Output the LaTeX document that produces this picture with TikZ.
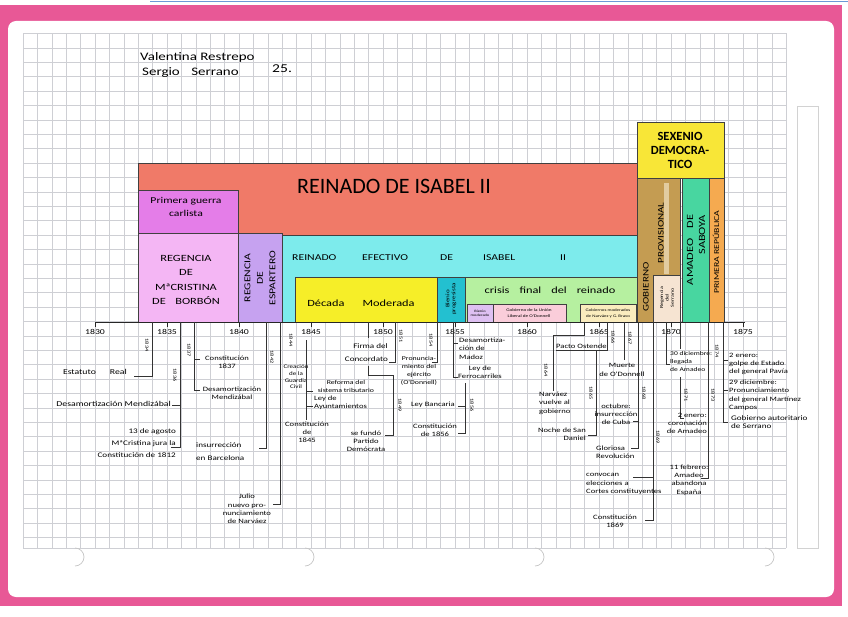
\documentclass[tikz,border=0pt]{standalone}
\usepackage{fontspec}
\setmainfont{Carlito}
\newfontfamily\hand[FakeStretch=1.3]{Carlito}
\definecolor{pinkframe}{RGB}{232,88,150}
\definecolor{gridc}{RGB}{206,207,212}
\definecolor{salmon}{RGB}{240,122,104}
\definecolor{carlista}{RGB}{228,125,232}
\definecolor{regmc}{RGB}{244,182,244}
\definecolor{espart}{RGB}{198,162,240}
\definecolor{efect}{RGB}{125,235,236}
\definecolor{decmod}{RGB}{246,238,40}
\definecolor{bienio}{RGB}{35,192,208}
\definecolor{crisis}{RGB}{182,240,160}
\definecolor{biemod}{RGB}{222,192,242}
\definecolor{union}{RGB}{250,205,218}
\definecolor{gobmod}{RGB}{250,236,190}
\definecolor{sexenio}{RGB}{248,230,55}
\definecolor{gobprov}{RGB}{196,156,82}
\definecolor{gobprovl}{RGB}{226,204,160}
\definecolor{regser}{RGB}{246,228,210}
\definecolor{amadeo}{RGB}{72,214,160}
\definecolor{repub}{RGB}{245,170,80}
\tikzset{
  gridl/.style={draw=gridc, line width=0.45pt},
  box/.style={draw=black!75, line width=0.6pt},
  ev/.style={draw=black!80, line width=0.55pt},
  lbl/.style={font=\hand\fontsize{6.6}{8.2}\selectfont, inner sep=0pt, align=center},
  yr/.style={font=\hand\fontsize{4.8}{5}\selectfont, rotate=-90, inner sep=0pt},
  axyr/.style={font=\hand\fontsize{7.5}{8}\selectfont, inner sep=0pt},
  ttl/.style={inner sep=0pt, align=center},
}
\begin{document}
\begin{tikzpicture}[x=1pt,y=-1pt]
\useasboundingbox (0,0) rectangle (848,617);
% frame
\fill[white] (0,0) rectangle (848,617);
\fill[pinkframe] (0,5) rectangle (842,606);
\draw[cyan!50!blue!60, line width=1.2pt] (150,1.5) -- (848,1.5);
\fill[white, rounded corners=8pt] (8,21) rectangle (834,597);
% grid
\foreach \i in {0,...,53} \draw[gridl] ({23+\i*14.4},33.5) -- ({23+\i*14.4},548);
\foreach \j in {0,...,35} \draw[gridl] (23,{33.5+\j*14.4}) -- (786.2,{33.5+\j*14.4});
\draw[gridl] (23,548) -- (786.2,548);
\draw[draw=gray!35, line width=0.8pt] (797,106) rectangle (818,548);
% holes
\foreach \hx in {75,305,535,765} \draw[gray!45, line width=0.7pt] (\hx,566) arc[start angle=90, end angle=-90, radius=9];
% names
\node[anchor=west, font=\hand\fontsize{11.5}{12}\selectfont, inner sep=0pt] (n1) at (140,57) {Valentina Restrepo};
\node[anchor=west, font=\hand\fontsize{11.5}{12}\selectfont, inner sep=0pt] (n2) at (142,73) {Sergio\quad Serrano};
\node[anchor=west, font=\hand\fontsize{12}{12}\selectfont, inner sep=0pt] (n3) at (272,69) {25.};
% boxes
\filldraw[box, fill=salmon] (138,163) rectangle (637,235);
\filldraw[box, fill=carlista] (138,190) rectangle (238,233);
\filldraw[box, fill=regmc] (138,233) rectangle (238,322);
\filldraw[box, fill=espart] (238,233) rectangle (282,322);
\filldraw[box, fill=efect] (282,235) rectangle (637,322);
\filldraw[box, fill=decmod] (295,277) rectangle (437,322);
\filldraw[box, fill=bienio] (437,277) rectangle (465,322);
\filldraw[box, fill=crisis] (465,277) rectangle (637,322);
\filldraw[box, fill=biemod] (467,304) rectangle (493,322);
\filldraw[box, fill=union] (493,304) rectangle (566,322);
\filldraw[box, fill=gobmod] (580,304) rectangle (636,322);
\filldraw[box, fill=sexenio] (637,122) rectangle (724,178);
\filldraw[box, fill=gobprov] (637,178) rectangle (680,322);
\fill[gobprovl] (664,183) rectangle (669,274);
\filldraw[box, fill=regser] (653,275) rectangle (680,322);
\filldraw[box, fill=amadeo] (682,178) rectangle (709,322);
\filldraw[box, fill=repub] (709,178) rectangle (724,322);
% box titles
\node[ttl, font=\fontsize{22}{22}\selectfont] (tisabel) at (394,186) {REINADO DE ISABEL II};
\node[ttl, font=\hand\fontsize{9}{13.5}\selectfont] (tcarl) at (186,207) {Primera guerra\\carlista};
\node[ttl, font=\hand\fontsize{9.5}{14.5}\selectfont] (tregmc) at (186,280) {REGENCIA\\DE\\MªCRISTINA\\DE\quad BORBÓN};
\node[ttl, font=\hand\fontsize{9}{12.5}\selectfont, rotate=90] (tesp) at (260,278) {REGENCIA\\DE\\ESPARTERO};
\node[ttl, anchor=west, font=\hand\fontsize{9}{10}\selectfont] (te1) at (292,258) {REINADO};
\node[ttl, anchor=west, font=\hand\fontsize{9}{10}\selectfont] (te2) at (362,258) {EFECTIVO};
\node[ttl, anchor=west, font=\hand\fontsize{9}{10}\selectfont] (te3) at (440,258) {DE};
\node[ttl, anchor=west, font=\hand\fontsize{9}{10}\selectfont] (te4) at (483,258) {ISABEL};
\node[ttl, anchor=west, font=\hand\fontsize{9}{10}\selectfont] (te5) at (560,258) {II};
\node[ttl, font=\hand\fontsize{9.5}{10}\selectfont] (tdec) at (361,303) {Década\hspace{18pt}Moderada};
\node[ttl, font=\hand\fontsize{5.4}{6}\selectfont, rotate=90] (tbien) at (451,299) {Bienio\\progresista};
\node[ttl, font=\hand\fontsize{9.5}{10}\selectfont] (tcris) at (550,290) {crisis\hspace{10pt}final\hspace{10pt}del\hspace{10pt}reinado};
\node[ttl, font=\hand\fontsize{3.4}{4}\selectfont] (tbm) at (480,313) {Bienio\\moderado};
\node[ttl, font=\hand\fontsize{4}{6}\selectfont] (tul) at (529,313) {Gobierno de la Unión\\Liberal de O'Donnell};
\node[ttl, font=\hand\fontsize{3.8}{6}\selectfont] (tgm) at (608,313) {Gobiernos moderados\\de Narváez y G. Bravo};
\node[ttl, font=\bfseries\fontsize{12.5}{14}\selectfont] (tsex) at (680,150) {SEXENIO\\DEMOCRA-\\TICO};
\node[ttl, font=\hand\fontsize{8.5}{9}\selectfont, rotate=90] (tgob) at (646,287) {GOBIERNO};
\node[ttl, font=\hand\fontsize{8.5}{9}\selectfont, rotate=90] (tprov) at (661,233) {PROVISIONAL};
\node[ttl, font=\hand\fontsize{4.6}{5.4}\selectfont, rotate=90] (tser) at (667,298) {Regencia\\del\\Serrano};
\node[ttl, font=\hand\fontsize{9.5}{12}\selectfont, rotate=90, align=right] (tama) at (696,250) {AMADEO\hspace{10pt}DE\\SABOYA};
\node[ttl, font=\hand\fontsize{7.5}{8}\selectfont, rotate=90] (trep) at (716,252) {PRIMERA REPÚBLICA};
% axis
\draw[black!85, line width=0.7pt] (95,322) -- (745,322);
\foreach \i/\yy in {0/1830,1/1835,2/1840,3/1845,4/1850,5/1855,6/1860,7/1865,8/1870,9/1875}{
  \draw[black!85, line width=0.6pt] ({95+\i*72},322) -- ({95+\i*72},327);
  \node[axyr] (a\yy) at ({95+\i*72},332) {\yy};
}
% 1834
\draw[ev] (152,322) -- (152,376) -- (134,376);
\node[yr] (y1834) at (147,345) {1834};
\node[lbl, anchor=east, font=\hand\fontsize{7.5}{8}\selectfont] (e1834) at (127,372) {Estatuto\hspace{14pt}Real};
% 1836
\draw[ev] (180,322) -- (180,447) -- (171,447);
\draw[ev] (180,405) -- (172,405);
\node[yr] (y1836) at (175,375) {1836};
\node[lbl, anchor=east, font=\hand\fontsize{7.5}{8}\selectfont] (e1836a) at (171,404) {Desamortización Mendizábal};
\node[lbl, align=right, anchor=east, font=\hand\fontsize{7}{12}\selectfont] (e1836b) at (176,443) {13 de agosto\\MªCristina jura la\\Constitución de 1812};
% 1837
\draw[ev] (194,322) -- (194,390) -- (200,390);
\draw[ev] (194,359) -- (200,359);
\node[yr] (y1837) at (189,350) {1837};
\node[lbl] (e1837a) at (227,362) {Constitución\\1837};
\node[lbl] (e1837b) at (232,393) {Desamortización\\Mendizábal};
% 1842
\draw[ev] (266,322) -- (266,448) -- (259,448);
\node[yr] (y1842) at (272,357) {1842};
\node[lbl, align=left, anchor=west, font=\hand\fontsize{7}{13}\selectfont] (e1842) at (196,452) {insurrección\\en Barcelona};
% 1843
\draw[ev] (280,322) -- (280,504) -- (273,504);
\node[lbl] (e1843) at (247,509) {Julio\\nuevo pro-\\nunciamiento\\de Narváez};
% 1844
\node[yr] (y1844) at (291,340) {1844};
\node[lbl, font=\hand\fontsize{5.4}{6.6}\selectfont] (e1844) at (296,377) {Creación\\de la\\Guardia\\Civil};
% 1845
\draw[ev] (306,340) -- (306,420);
\draw[ev] (306,391) -- (313,391);
\draw[ev] (306,406) -- (313,406);
\node[lbl, font=\hand\fontsize{6}{8}\selectfont] (e1845a) at (346,386) {Reforma del\\sistema tributario};
\node[lbl, align=left, anchor=west] (e1845b) at (314,403) {Ley de\\Ayuntamientos};
\node[lbl] (e1845c) at (307,432) {Constitución\\de\\1845};
% 1849
\draw[ev] (368,322) -- (368,338);
\draw[ev] (368,366) -- (368,375) -- (393,375) -- (393,435) -- (385,435);
\node[yr] (y1849) at (400,405) {1849};
\node[lbl] (e1849) at (366,441) {se fundó\\Partido\\Demócrata};
% 1851
\draw[ev] (395,322) -- (395,362) -- (389,362);
\node[yr] (y1851) at (401,336) {1851};
\node[lbl, align=right, anchor=east, font=\hand\fontsize{7}{13}\selectfont] (e1851) at (388,353) {Firma del\\Concordato};
% 1854
\draw[ev] (437,322) -- (437,362) -- (432,362);
\node[yr] (y1854) at (431,340) {1854};
\node[lbl, font=\hand\fontsize{6}{7.8}\selectfont] (e1854) at (419,371) {Pronuncia-\\miento del\\ejército\\(O'Donnell)};
% 1855
\draw[ev] (453,322) -- (453,377) -- (458,377);
\draw[ev] (453,343) -- (458,343);
\node[lbl, align=left, anchor=north west] (e1855a) at (459,338) {Desamortiza-\\ción de\\Madoz};
\node[lbl] (e1855b) at (480,372) {Ley de\\Ferrocarriles};
% 1856
\draw[ev] (465,383) -- (465,433) -- (458,433);
\draw[ev] (465,406) -- (458,406);
\node[yr] (y1856) at (472,405) {1856};
\node[lbl, anchor=east] (e1856a) at (455,405) {Ley Bancaria};
\node[lbl] (e1856b) at (435,430) {Constitución\\de 1856};
% 1864
\draw[ev] (584,322) -- (584,335) -- (553,335) -- (553,391);
\node[yr] (y1864) at (546,370) {1864};
\node[lbl, align=left, anchor=north west] (e1864) at (539,392) {Narváez\\vuelve al\\gobierno};
% 1866 and 1865
\draw[ev] (607,322) -- (607,350) -- (556,350);
\node[yr] (y1866) at (613,337) {1866};
\node[lbl, anchor=south west] (e1866) at (556,348.5) {Pacto Ostende};
\draw[ev] (596,350) -- (596,435) -- (588,435);
\node[yr] (y1865) at (591,393) {1865};
\node[lbl, align=right, anchor=east] (e1865) at (586,434) {Noche de San\\Daniel};
% 1867
\draw[ev] (624,322) -- (624,360);
\node[yr] (y1867) at (630,338) {1867};
\node[lbl] (e1867) at (622,370) {Muerte\\de O'Donnell};
% 1868
\draw[ev] (638,322) -- (638,448) -- (631,448);
\draw[ev] (638,421) -- (633,421);
\node[yr] (y1868) at (644,393) {1868};
\node[lbl] (e1868a) at (616,414) {octubre:\\insurrección\\de Cuba};
\node[lbl, align=left, anchor=west] (e1868b) at (596,452) {Gloriosa\\Revolución};
% 1869
\draw[ev] (653,322) -- (653,520) -- (645,520);
\draw[ev] (653,477) -- (633,477);
\node[yr] (y1869) at (658,437) {1869};
\node[lbl, align=left, anchor=west] (e1869a) at (586,484) {convocan\\elecciones a\\Cortes constituyentes};
\node[lbl] (e1869b) at (615,521) {Constitución\\1869};
% 1870
\draw[ev] (666,322) -- (666,364) -- (670,364);
\node[lbl, align=left, anchor=west, font=\hand\fontsize{5.8}{8}\selectfont] (e1870) at (670,362) {30 diciembre:\\llegada\\de Amadeo};
% 1871
\draw[ev] (680,322) -- (680,349);
\draw[ev] (680,377) -- (680,418) -- (684,418);
\node[yr] (y1871) at (686,395) {1871};
\node[lbl, align=right, anchor=north east] (e1871) at (707,413) {2 enero:\\coronación\\de Amadeo};
% 1873
\draw[ev] (708,322) -- (708,478) -- (701,478);
\node[yr] (y1873) at (713,395) {1873};
\node[lbl] (e1873) at (689,480) {11 febrero:\\Amadeo\\abandona\\España};
% 1874
\draw[ev] (723,322) -- (723,422) -- (728,422);
\draw[ev] (723,360) -- (728,360);
\draw[ev] (723,390) -- (728,390);
\node[yr] (y1874) at (717,351) {1874};
\node[lbl, align=left, anchor=north west] (e1874a) at (729,353) {2 enero:\\golpe de Estado\\del general Pavía};
\node[lbl, align=left, anchor=north west] (e1874b) at (729,380) {29 diciembre:\\Pronunciamiento\\del general Martínez\\Campos};
\node[lbl, align=left, anchor=north west, font=\hand\fontsize{7}{8.5}\selectfont] (e1874c) at (731,415) {Gobierno autoritario\\de Serrano};
\end{tikzpicture}
\end{document}
